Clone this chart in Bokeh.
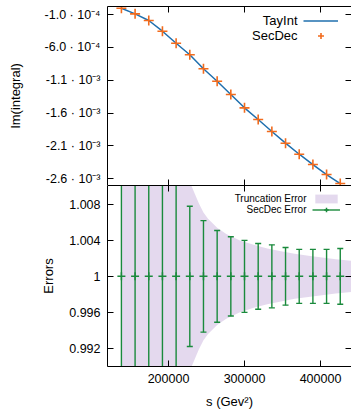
from bokeh.plotting import figure
from bokeh.layouts import column
from bokeh.models import (FixedTicker, LinearAxis, Legend, LegendItem, Label, Range1d)
from bokeh.embed import file_html
from bokeh.resources import INLINE

# ---------------- data ----------------
s_vals = [138000, 156000, 174000, 192000, 210000, 228000, 246000, 264000, 282000,
          300000, 318000, 336000, 354000, 372000, 390000, 408000, 426000]
tayint = [-0.000005, -0.00009, -0.000191, -0.000354, -0.000538, -0.000713, -0.000926,
          -0.001115, -0.001317, -0.00152, -0.001698, -0.00188, -0.002058, -0.002226,
          -0.002383, -0.002535, -0.002672]
secdec = [-0.000005, -0.00009, -0.000191, -0.000354, -0.000538, -0.000713, -0.000926,
          -0.001115, -0.001317, -0.00152, -0.001698, -0.00188, -0.002058, -0.002226,
          -0.002383, -0.002535, -0.002672]
ratio = [1.0, 1.0, 1.0, 1.0, 1.0, 1.0, 1.0, 1.0, 1.0, 1.0, 1.0, 1.0, 1.0, 1.0, 1.0, 1.0, 1.0]
secdec_err = [0.06, 0.04, 0.026, 0.018, 0.0125, 0.0078, 0.0062, 0.0051, 0.0044, 0.0040,
              0.00365, 0.0035, 0.0032, 0.0030, 0.0030, 0.0030, 0.0031]
trunc_s = [138000, 156000, 174000, 192000, 210000, 220000, 228000, 234000, 240000, 246000,
           252000, 264000, 276000, 294000, 312000, 330000, 348000, 366000, 384000, 402000,
           420000, 444000]
trunc_err = [0.12, 0.07, 0.04, 0.025, 0.016, 0.0125, 0.0105, 0.0093, 0.0081, 0.0071,
             0.0064, 0.0054, 0.0047, 0.0040, 0.0035, 0.0031, 0.0028, 0.0025, 0.0023, 0.0021,
             0.0019, 0.0017]

top_ticks = [-0.0001, -0.0006, -0.0011, -0.0016, -0.0021, -0.0026]
top_tick_labels = ["-1.0 · 10⁻⁴", "-6.0 · 10⁻⁴", "-1.1 · 10⁻³", "-1.6 · 10⁻³",
                   "-2.1 · 10⁻³", "-2.6 · 10⁻³"]
bot_ticks = [0.992, 0.996, 1.0, 1.004, 1.008]
bot_tick_labels = ["0.992", "0.996", "1", "1.004", "1.008"]
x_ticks = [200000, 300000, 400000]
x_tick_labels = ["200000", "300000", "400000"]

BLUE = "#1f6fae"
ORANGE = "#f26b1d"
GREEN = "#1a8a3c"
PURPLE = "#9467bd"
FONT = "Liberation Sans"

X_START, X_END = 119700, 440800


def style_axis(ax, ticks, labels=None, font_size="12.5px"):
    ax.ticker = FixedTicker(ticks=ticks, minor_ticks=[])
    ax.major_tick_in = 6
    ax.major_tick_out = 0
    ax.minor_tick_line_color = None
    ax.axis_line_color = "black"
    ax.major_tick_line_color = "black"
    if labels is None:
        ax.major_label_text_font_size = "0px"
        ax.major_label_text_color = None
        ax.major_label_standoff = 0
    else:
        ax.major_label_overrides = {t: l for t, l in zip(ticks, labels)}
        ax.major_label_text_font = FONT
        ax.major_label_text_font_size = font_size
        ax.major_label_text_color = "black"
        ax.major_label_standoff = 7
    ax.axis_label_text_font = FONT
    ax.axis_label_text_font_size = "13px"
    ax.axis_label_text_font_style = "normal"
    ax.axis_label_text_color = "black"


def glyph_legend(items, loc, gw, gh):
    return Legend(items=items, location=loc, glyph_width=gw, glyph_height=gh,
                  label_width=0, label_height=0, label_standoff=0, padding=0, spacing=0,
                  margin=0, label_text_font_size="0px", label_text_color=None,
                  border_line_color=None, background_fill_alpha=0)


# ---------------- top panel ----------------
p1 = figure(width=351, height=185, output_backend="svg", toolbar_location=None,
            x_range=Range1d(X_START, X_END), y_range=Range1d(-0.002702, 0.000022),
            min_border_left=107, min_border_right=0, min_border_top=6, min_border_bottom=0)
p1.outline_line_color = None
p1.grid.visible = False
style_axis(p1.yaxis[0], top_ticks, top_tick_labels)
p1.yaxis[0].axis_label = "Im(integral)"
p1.yaxis[0].axis_label_standoff = 19
style_axis(p1.xaxis[0], x_ticks)
ax = LinearAxis()
style_axis(ax, x_ticks)
p1.add_layout(ax, "above")
ax = LinearAxis()
style_axis(ax, top_ticks)
ax.axis_line_color = None
p1.add_layout(ax, "right")

r_line = p1.line(s_vals, tayint, line_color=BLUE, line_width=1.5)
r_pts = p1.scatter(s_vals, secdec, marker="cross", size=10, line_width=1.6, line_color=ORANGE)

p1.add_layout(glyph_legend([LegendItem(label="", renderers=[r_line]),
                            LegendItem(label="", renderers=[r_pts])],
                           (196, 142.5), 35, 15))
for txt, yy in [("TayInt", 165), ("SecDec", 150)]:
    p1.add_layout(Label(x=190, y=yy, x_units="screen", y_units="screen", text=txt,
                        text_align="right", text_baseline="middle", text_font=FONT,
                        text_font_size="13px", text_color="black"))

# ---------------- bottom panel ----------------
p2 = figure(width=351, height=226, output_backend="svg", toolbar_location=None,
            x_range=p1.x_range, y_range=Range1d(0.98998, 1.0101),
            min_border_left=107, min_border_right=0, min_border_top=0, min_border_bottom=0)
p2.outline_line_color = None
p2.grid.visible = False
style_axis(p2.yaxis[0], bot_ticks, bot_tick_labels)
p2.yaxis[0].axis_label = "Errors"
p2.yaxis[0].axis_label_standoff = 10
style_axis(p2.xaxis[0], x_ticks, x_tick_labels)
p2.xaxis[0].axis_label = "s (Gev²)"
p2.xaxis[0].axis_label_standoff = 8
ax = LinearAxis()
style_axis(ax, x_ticks)
p2.add_layout(ax, "above")
ax = LinearAxis()
style_axis(ax, bot_ticks)
ax.axis_line_color = None
p2.add_layout(ax, "right")

band_lo = [1 - e for e in trunc_err]
band_hi = [1 + e for e in trunc_err]
r_band = p2.varea(x=trunc_s, y1=band_lo, y2=band_hi, fill_color=PURPLE, fill_alpha=0.25)

err_lo = [r - e for r, e in zip(ratio, secdec_err)]
err_hi = [r + e for r, e in zip(ratio, secdec_err)]
r_seg = p2.segment(x0=s_vals, y0=err_lo, x1=s_vals, y1=err_hi, line_color=GREEN, line_width=1.4)
p2.scatter(s_vals, err_hi, marker="dash", size=6, line_color=GREEN, line_width=1.4)
p2.scatter(s_vals, err_lo, marker="dash", size=6, line_color=GREEN, line_width=1.4)
r_ctr = p2.scatter(s_vals, ratio, marker="cross", size=8, line_color=GREEN, line_width=1.5)

p2.add_layout(glyph_legend([LegendItem(label="", renderers=[r_band]),
                            LegendItem(label="", renderers=[r_seg, r_ctr])],
                           (205, 151.5), 28, 11))
for txt, yy in [("Truncation Error", 168), ("SecDec Error", 157)]:
    p2.add_layout(Label(x=199, y=yy, x_units="screen", y_units="screen", text=txt,
                        text_align="right", text_baseline="middle", text_font=FONT,
                        text_font_size="10px", text_color="black"))

layout = column(p1, p2, spacing=0)
open("out.html", "w").write(file_html(layout, INLINE))
